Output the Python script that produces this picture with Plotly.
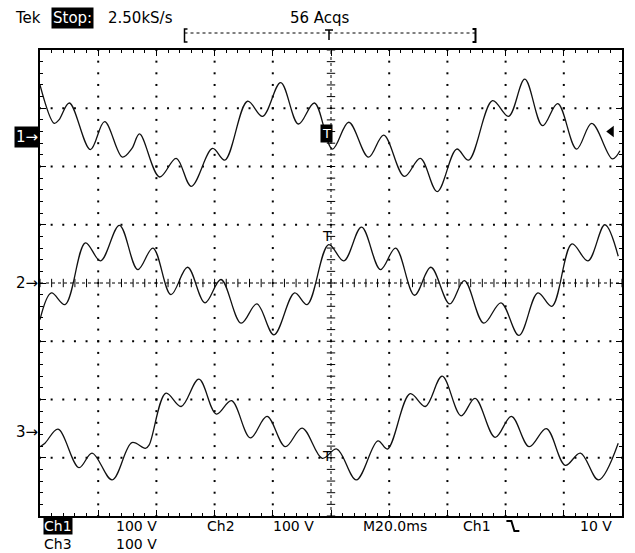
import numpy as np
import plotly.graph_objects as go

# Acquisition settings
MS_PER_DIV = 20
V_PER_DIV = 100
TRIG_LEVEL = 10  # V, channel 1, falling edge

# Channel 1 (time in ms from trigger, volts)
ch1_t = [-100.0, -95.1, -93.5, -89.9, -82.7, -77.8, -71.7, -68.4, -65.8, -58.9,
         -53.2, -48.0, -40.7, -36.5, -28.7, -23.5, -17.3, -11.2, -5.7, 0.5,
         6.1, 12.9, 18.1, 25.2, 30.7, 36.5, 43.2, 47.3, 55.5, 61.0,
         66.6, 72.7, 77.9, 84.4, 89.6, 96.7, 99.3]
ch1_v = [90, 24, 30, 59, -21, 27, -34, -19, 6, -68,
         -36, -84, -19, -39, 62, 36, 94, 23, 59, -20,
         26, -34, 4, -67, -36, -93, -20, -39, 63, 36,
         100, 20, 58, -20, 24, -37, -23]

# Channel 2
ch2_t = [-100.0, -96.1, -91.4, -84.4, -79.2, -72.7, -66.4, -61.2, -55.0, -49.3,
         -43.3, -37.8, -30.9, -25.5, -19.6, -12.5, -8.2, -0.8, 4.4, 10.5,
         17.0, 22.2, 28.7, 34.3, 40.8, 45.8, 52.5, 58.4, 64.6, 71.1,
         75.9, 82.8, 88.3, 94.1, 98.7]
ch2_v = [-63, -17, -37, 69, 38, 99, 23, 60, -20, 27,
         -34, 6, -69, -36, -89, -17, -37, 66, 38, 96,
         23, 60, -21, 27, -36, 4, -69, -34, -90, -17,
         -40, 67, 38, 100, 46]

# Channel 3
ch3_t = [-100.0, -98.3, -93.8, -86.6, -82.1, -75.2, -68.4, -63.8, -62.5, -56.7,
         -51.5, -45.4, -39.4, -34.2, -27.7, -22.0, -15.7, -9.9, -3.0, 2.0,
         8.7, 16.1, 19.4, 27.2, 32.4, 38.2, 44.7, 49.5, 56.4, 62.0,
         68.1, 74.0, 80.5, 85.7, 91.9, 98.7]
ch3_v = [-26, -20, 4, -62, -37, -83, -19, -29, -23, 66,
         43, 90, 30, 53, -11, 26, -26, 6, -46, -30,
         -83, -16, -30, 65, 43, 95, 27, 57, -10, 26,
         -26, 5, -58, -37, -83, -20]

# Ground reference of each channel, in divisions above screen centre
GND_DIV = {1: 2.5, 2: 0.0, 3: -2.55}

N_HDIV, N_VDIV = 10, 8
X_HALF = N_HDIV / 2 * MS_PER_DIV
Y_HALF = N_VDIV / 2 * V_PER_DIV

W, H = 635, 553
ML, MR, MT, MB = 40, 11, 50, 37
PW, PH = W - ML - MR, H - MT - MB


def px(xp):
    return (xp - ML) / PW


def py(yp):
    return (H - MB - yp) / PH


def yrange(ch):
    off = GND_DIV[ch] * V_PER_DIV
    return [-Y_HALF - off, Y_HALF - off]


FONT = "DejaVu Sans"
INK = "#000000"

fig = go.Figure()

# Graticule: dotted division lines
gx, gy = [], []
minor_x = np.arange(-X_HALF, X_HALF + 1e-9, MS_PER_DIV / 5)
minor_y = np.arange(-Y_HALF, Y_HALF + 1e-9, V_PER_DIV / 5)
for k in range(1, N_HDIV):
    xv = -X_HALF + k * MS_PER_DIV
    if abs(xv) < 1e-9:
        continue
    gx += [xv] * len(minor_y)
    gy += list(minor_y)
for k in range(1, N_VDIV):
    yv = -Y_HALF + k * V_PER_DIV
    if abs(yv) < 1e-9:
        continue
    gx += list(minor_x)
    gy += [yv] * len(minor_x)
fig.add_trace(go.Scatter(x=gx, y=gy, mode="markers", hoverinfo="skip",
                         marker=dict(symbol="square", size=2, color=INK, line_width=0)))

# Centre cross with fine ticks
fig.add_shape(type="line", x0=0, x1=0, y0=-Y_HALF, y1=Y_HALF, xref="x", yref="y",
              line=dict(color=INK, width=1, dash="dot"))
fig.add_shape(type="line", x0=-X_HALF, x1=X_HALF, y0=0, y1=0, xref="x", yref="y",
              line=dict(color=INK, width=1, dash="dot"))
fig.add_trace(go.Scatter(x=list(minor_x), y=[0] * len(minor_x), mode="markers",
                         hoverinfo="skip",
                         marker=dict(symbol="line-ns", size=6, line=dict(color=INK, width=1))))
fig.add_trace(go.Scatter(x=[0] * len(minor_y), y=list(minor_y), mode="markers",
                         hoverinfo="skip",
                         marker=dict(symbol="line-ew", size=6, line=dict(color=INK, width=1))))

# Waveforms
for t, v, ax in ((ch1_t, ch1_v, "y2"), (ch2_t, ch2_v, "y"), (ch3_t, ch3_v, "y3")):
    fig.add_trace(go.Scatter(x=t, y=v, yaxis=ax, mode="lines",
                             line=dict(color="#111111", width=1.3, shape="spline", smoothing=1.0),
                             hoverinfo="skip"))

# Trigger level indicator (right edge)
fig.add_trace(go.Scatter(x=[96.3], y=[TRIG_LEVEL], yaxis="y2", mode="markers",
                         hoverinfo="skip",
                         marker=dict(symbol="triangle-left", size=10, color=INK)))

axis_common = dict(showgrid=False, zeroline=False, showticklabels=False,
                   showline=True, linecolor=INK, linewidth=1.5, mirror="ticks",
                   ticks="inside", ticklen=6, tickwidth=1, tickcolor=INK)

fig.update_layout(
    width=W, height=H,
    margin=dict(l=ML, r=MR, t=MT, b=MB),
    paper_bgcolor="white", plot_bgcolor="white",
    showlegend=False,
    xaxis=dict(range=[-X_HALF, X_HALF], tick0=-X_HALF, dtick=MS_PER_DIV,
               minor=dict(ticks="inside", ticklen=3, dtick=MS_PER_DIV / 5, tickcolor=INK),
               **axis_common),
    yaxis=dict(range=yrange(2), tick0=-Y_HALF, dtick=V_PER_DIV,
               minor=dict(ticks="inside", ticklen=3, dtick=V_PER_DIV / 5, tickcolor=INK),
               **axis_common),
    yaxis2=dict(range=yrange(1), overlaying="y", visible=False),
    yaxis3=dict(range=yrange(3), overlaying="y", visible=False),
)


def label(text, x, y, anchor="left", inverse=False, size=15, xref="paper", yref="paper", pad=1):
    fig.add_annotation(text=text, x=x, y=y, xref=xref, yref=yref,
                       xanchor=anchor, yanchor="middle", showarrow=False,
                       font=dict(family=FONT, size=size, color="white" if inverse else INK),
                       bgcolor=INK if inverse else None, borderpad=pad)


# Header
label("Tek", px(13), py(17.5))
label("Stop:", px(51), py(17.5), inverse=True)
label("2.50kS/s", px(106), py(17.5))
label("56 Acqs", px(289), py(17.5))

# Record-view bracket with trigger point
bx0, bx1, by0, by1, bym = 185, 477, 29, 42, 33
fig.add_shape(type="path", xref="paper", yref="paper",
              path=f"M {px(bx0+3)},{py(by0)} L {px(bx0)},{py(by0)} L {px(bx0)},{py(by1)} L {px(bx0+3)},{py(by1)}",
              line=dict(color=INK, width=1.5))
fig.add_shape(type="path", xref="paper", yref="paper",
              path=f"M {px(bx1-3)},{py(by0)} L {px(bx1)},{py(by0)} L {px(bx1)},{py(by1)} L {px(bx1-3)},{py(by1)}",
              line=dict(color=INK, width=2))
fig.add_shape(type="line", xref="paper", yref="paper",
              x0=px(bx0), x1=px(bx1), y0=py(bym), y1=py(bym),
              line=dict(color=INK, width=1, dash="dot"))
fig.add_shape(type="path", xref="paper", yref="paper",
              path=f"M {px(326)},{py(30)} L {px(334)},{py(30)} M {px(330)},{py(30)} L {px(330)},{py(40)}",
              line=dict(color=INK, width=1.5))

# Channel ground markers
label("1\u2192", 0, 0, anchor="right", inverse=True, xref="paper", yref="y2")
label("2\u2192", 0, 0, anchor="right", xref="paper", yref="y")
label("3\u2192", 0, 0, anchor="right", xref="paper", yref="y3")

# Trigger position markers on each trace
fig.add_annotation(text="T", x=-1.6, y=6, xref="x", yref="y2", showarrow=False,
                   font=dict(family=FONT, size=13, color="white"), bgcolor=INK, borderpad=1)
fig.add_annotation(text="T", x=-1.4, y=80, xref="x", yref="y", showarrow=False,
                   font=dict(family=FONT, size=14, color=INK))
fig.add_annotation(text="T", x=-1.4, y=-42, xref="x", yref="y3", showarrow=False,
                   font=dict(family=FONT, size=14, color=INK))

# Footer readouts
r1, r2 = py(525.5), py(543.5)
FS = 14
label("Ch1", px(43), r1, inverse=True, size=FS, pad=0)
label(f"{V_PER_DIV} V", px(115), r1, size=FS, pad=0)
label("Ch2", px(207), r1, size=FS, pad=0)
label(f"{V_PER_DIV} V", px(273), r1, size=FS, pad=0)
label(f"M{MS_PER_DIV:.1f}ms", px(363), r1, size=FS, pad=0)
label("Ch1", px(463), r1, size=FS, pad=0)
fig.add_shape(type="path", xref="paper", yref="paper",
              path=f"M {px(508)},{py(521)} L {px(513)},{py(521)} L {px(516)},{py(531)} L {px(521)},{py(531)}",
              line=dict(color=INK, width=2))
label(f"{TRIG_LEVEL} V", px(615), r1, anchor="right", size=FS, pad=0)
label("Ch3", px(43), r2, size=FS, pad=0)
label(f"{V_PER_DIV} V", px(115), r2, size=FS, pad=0)

fig.write_html("out.html")
